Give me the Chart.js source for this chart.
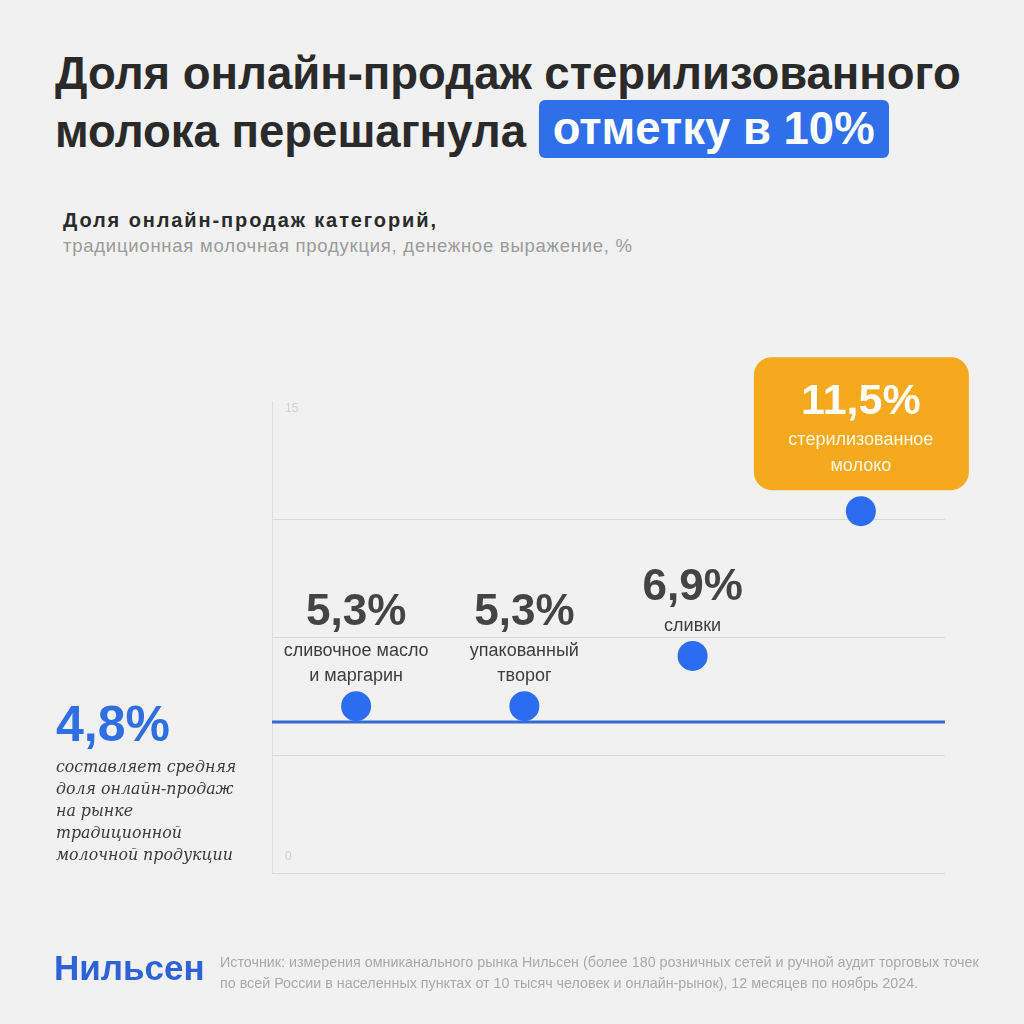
<!DOCTYPE html>
<html lang="ru">
<head>
    <meta charset="UTF-8">
    <title>Доля онлайн-продаж стерилизованного молока</title>
    <script src="https://cdn.jsdelivr.net/npm/chart.js"></script>
    <style>
        body {
            margin: 0;
            background: #f1f1f1;
            font-family: "Liberation Sans", Arial, sans-serif;
        }
        .page {
            position: relative;
            width: 1024px;
            height: 1024px;
            overflow: hidden;
        }
        h1 {
            position: absolute;
            left: 55px;
            top: 45px;
            margin: 0;
            font-size: 45.5px;
            line-height: 58px;
            font-weight: bold;
            color: #2a2a2a;
            white-space: nowrap;
        }
        .mark {
            display: inline-block;
            position: relative;
            top: -3px;
            background: #2f6fe9;
            color: #fff;
            border-radius: 6px;
            padding: 0 14px;
            line-height: 58px;
        }
        .subtitle {
            position: absolute;
            left: 63px;
            top: 208px;
            font-size: 18.5px;
            line-height: 25px;
            letter-spacing: 0.75px;
            color: #9b9b9b;
            white-space: nowrap;
        }
        .subtitle b { color: #2a2a2a; font-size: 20px; letter-spacing: 1.9px; }
        .avg {
            position: absolute;
            left: 56px;
            top: 696px;
        }
        .avg .num {
            font-size: 50px;
            font-weight: bold;
            color: #2f6fe3;
            line-height: 56px;
        }
        .avg .note {
            font-family: "DejaVu Serif", "Liberation Serif", serif;
            font-style: italic;
            font-size: 15.8px;
            line-height: 22px;
            color: #3a3a3a;
            margin-top: 4px;
            white-space: nowrap;
        }
        .brand {
            position: absolute;
            left: 54px;
            top: 948px;
            font-size: 35px;
            font-weight: bold;
            color: #2f62d6;
        }
        .source {
            position: absolute;
            left: 220px;
            top: 952px;
            font-size: 14.3px;
            line-height: 21px;
            color: #a9a9a9;
            white-space: nowrap;
        }
        #chart {
            position: absolute;
            left: 0;
            top: 0;
        }
    </style>
</head>
<body>
    <div class="page">
        <h1>Доля онлайн-продаж стерилизованного<br>молока перешагнула <span class="mark">отметку в 10%</span></h1>

        <div class="subtitle">
            <b>Доля онлайн-продаж категорий,</b><br>
            традиционная молочная продукция, денежное выражение, %
        </div>

        <canvas id="chart" width="1024" height="1024"></canvas>

        <div class="avg">
            <div class="num">4,8%</div>
            <div class="note">составляет средняя<br>доля онлайн-продаж<br>на рынке<br>традиционной<br>молочной продукции</div>
        </div>

        <div class="brand">Нильсен</div>
        <div class="source">Источник: измерения омниканального рынка Нильсен (более 180 розничных сетей и ручной аудит торговых точек<br>по всей России в населенных пунктах от 10 тысяч человек и онлайн-рынок), 12 месяцев по ноябрь 2024.</div>
    </div>

    <script>
        // Data
        const categories = ['сливочное масло и маргарин', 'упакованный творог', 'сливки', 'стерилизованное молоко'];
        const labelLines = [['сливочное масло', 'и маргарин'], ['упакованный', 'творог'], ['сливки'], ['стерилизованное', 'молоко']];
        const onlineShare = [5.3, 5.3, 6.9, 11.5];
        const averageShare = 4.8;
        const axisLabels = [0, 15];
        const highlightIndex = 3;

        const fmt = v => v.toFixed(1).replace('.', ',') + '%';

        function roundRect(ctx, x, y, w, h, r) {
            ctx.beginPath();
            ctx.moveTo(x + r, y);
            ctx.arcTo(x + w, y, x + w, y + h, r);
            ctx.arcTo(x + w, y + h, x, y + h, r);
            ctx.arcTo(x, y + h, x, y, r);
            ctx.arcTo(x, y, x + w, y, r);
            ctx.closePath();
        }

        // average line, axis labels and point annotations
        const overlay = {
            id: 'overlay',
            beforeDatasetsDraw(chart) {
                const { ctx, chartArea, scales: { y } } = chart;
                const py = y.getPixelForValue(averageShare);
                ctx.save();
                ctx.strokeStyle = '#2f6ad8';
                ctx.lineWidth = 3;
                ctx.beginPath();
                ctx.moveTo(chartArea.left, py);
                ctx.lineTo(chartArea.right, py);
                ctx.stroke();

                ctx.fillStyle = '#cfcfcf';
                ctx.font = '12px "Liberation Sans"';
                ctx.textBaseline = 'middle';
                ctx.textAlign = 'left';
                axisLabels.forEach(v => {
                    const shift = v === 0 ? -16 : 8;
                    ctx.fillText(String(v), chartArea.left + 13, y.getPixelForValue(v) + shift);
                });
                ctx.restore();
            },
            afterDatasetsDraw(chart) {
                const { ctx } = chart;
                const meta = chart.getDatasetMeta(0);
                ctx.save();
                ctx.textAlign = 'center';
                ctx.textBaseline = 'middle';
                meta.data.forEach((pt, i) => {
                    const lines = labelLines[i];
                    if (i === highlightIndex) {
                        ctx.fillStyle = '#f4aa1c';
                        roundRect(ctx, pt.x - 107, pt.y - 154, 215, 133, 18);
                        ctx.fill();
                        ctx.fillStyle = '#ffffff';
                        ctx.font = 'bold 43px "Liberation Sans"';
                        ctx.fillText(fmt(onlineShare[i]), pt.x, pt.y - 109);
                        ctx.fillStyle = '#fff6e6';
                        ctx.font = '18px "Liberation Sans"';
                        lines.forEach((l, k) => ctx.fillText(l, pt.x, pt.y - 71 + k * 26));
                    } else {
                        const base = pt.y - 30 - (lines.length - 1) * 25;
                        ctx.fillStyle = '#3d3d3d';
                        ctx.font = '18px "Liberation Sans"';
                        lines.forEach((l, k) => ctx.fillText(l, pt.x, base + k * 25));
                        ctx.fillStyle = '#444444';
                        ctx.font = 'bold 44px "Liberation Sans"';
                        ctx.fillText(fmt(onlineShare[i]), pt.x, base - 38);
                    }
                });
                ctx.restore();
            }
        };

        new Chart(document.getElementById('chart'), {
            type: 'line',
            data: {
                labels: categories,
                datasets: [{
                    data: onlineShare,
                    showLine: false,
                    pointRadius: 15,
                    pointHoverRadius: 15,
                    pointBackgroundColor: '#2b6cf0',
                    pointBorderWidth: 0
                }]
            },
            options: {
                responsive: false,
                animation: false,
                layout: { padding: { left: 272, right: 79, top: 401, bottom: 151 } },
                plugins: { legend: { display: false }, tooltip: { enabled: false } },
                scales: {
                    x: { display: false, offset: true },
                    y: {
                        min: 0,
                        max: 15,
                        ticks: { display: false, stepSize: 3.75 },
                        grid: {
                            drawTicks: false,
                            color: c => c.tick && c.tick.value === 15 ? 'rgba(0,0,0,0)' : '#d9d9d9'
                        },
                        border: { display: true, color: '#dedede' }
                    }
                }
            },
            plugins: [overlay]
        });
    </script>
</body>
</html>
